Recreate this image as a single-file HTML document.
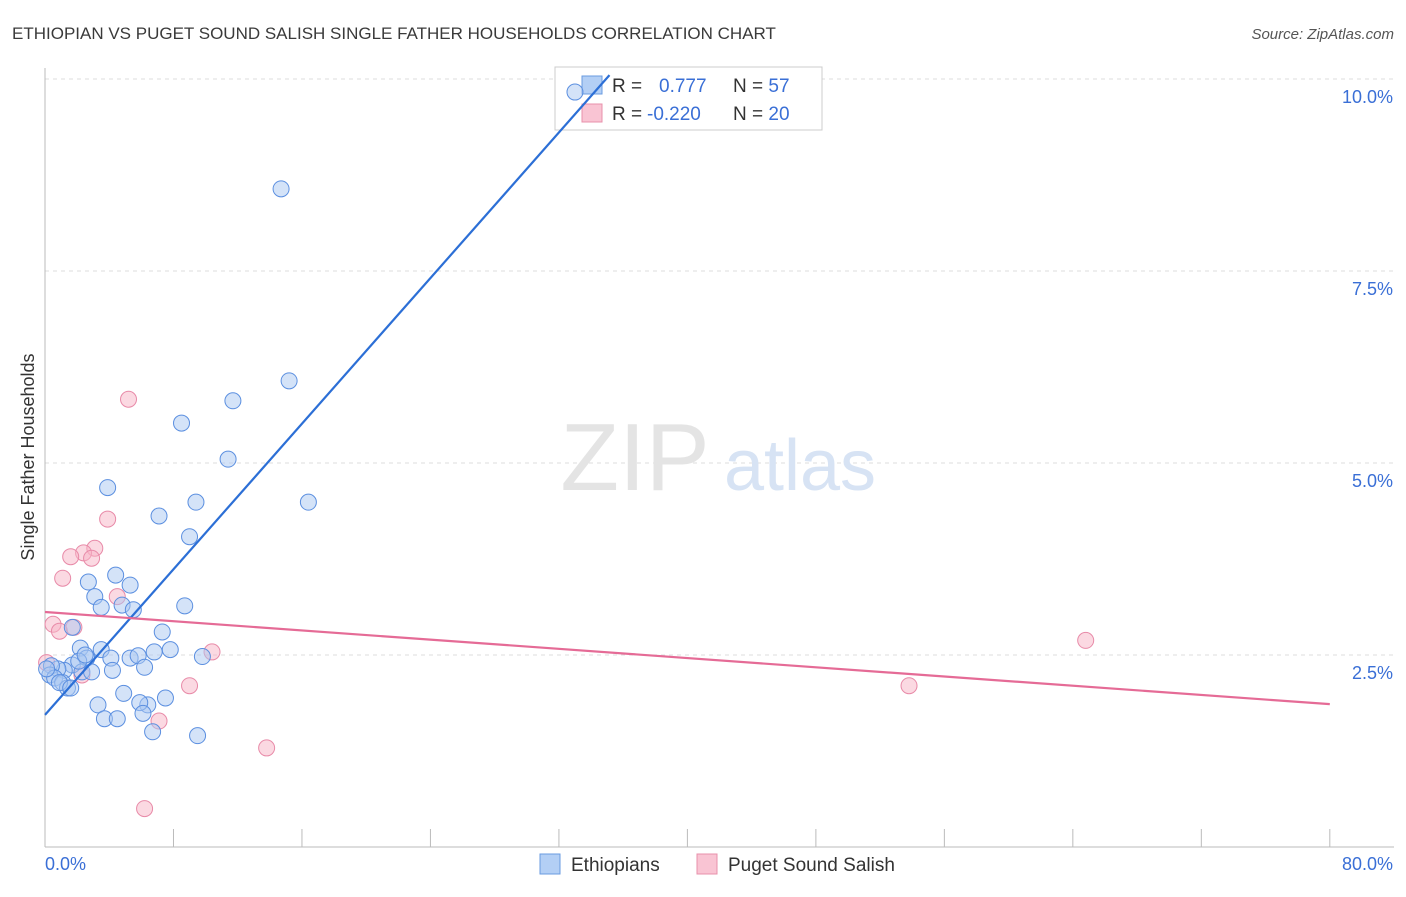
<!DOCTYPE html>
<html><head><meta charset="utf-8"><style>
body{margin:0;background:#fff;font-family:"Liberation Sans",sans-serif;}
svg text{font-family:"Liberation Sans",sans-serif;}
</style></head><body>
<svg width="1406" height="892">
<text x="12" y="39" font-size="17" fill="#3a3a3a">ETHIOPIAN VS PUGET SOUND SALISH SINGLE FATHER HOUSEHOLDS CORRELATION CHART</text>
<text x="1394" y="39" font-size="15" fill="#555" font-style="italic" text-anchor="end">Source: ZipAtlas.com</text>
<g id="grid"></g>
<text x="635" y="490" font-size="96" fill="#e4e4e4" font-family="Liberation Serif" text-anchor="middle">ZIP</text>
<text x="800" y="490" font-size="72" fill="#d7e3f4" text-anchor="middle">atlas</text>
<line x1="45" y1="68" x2="45" y2="847" stroke="#bbb"/>
<line x1="45" y1="847" x2="1394" y2="847" stroke="#bbb"/>
<text transform="translate(34,457) rotate(-90)" font-size="18" fill="#333" text-anchor="middle">Single Father Households</text>
<text x="45" y="870" font-size="18" fill="#3a6fd6">0.0%</text>
<text x="1393" y="870" font-size="18" fill="#3a6fd6" text-anchor="end">80.0%</text>
<g>
<rect x="555" y="67" width="267" height="63" fill="#fff" stroke="#ccc"/>
<rect x="582" y="76" width="20" height="18" fill="#b3cff5" stroke="#6a9be0"/>
<rect x="582" y="104" width="20" height="18" fill="#f9c4d3" stroke="#e890ab"/>
<text x="612" y="92" font-size="19" fill="#333">R = <tspan fill="#3a6fd6" x="659">0.777</tspan><tspan x="733" fill="#333">N = </tspan><tspan fill="#3a6fd6">57</tspan></text>
<text x="612" y="120" font-size="19" fill="#333">R = <tspan fill="#3a6fd6" x="647">-0.220</tspan><tspan x="733" fill="#333">N = </tspan><tspan fill="#3a6fd6">20</tspan></text>
</g>
<g id="pts"></g>
<g id="lines"></g>
<g><rect x="540" y="854" width="20" height="20" fill="#b3cff5" stroke="#6a9be0"/><text x="571" y="871" font-size="19" fill="#333">Ethiopians</text></g>
<g><rect x="697" y="854" width="20" height="20" fill="#f9c4d3" stroke="#e890ab"/><text x="728" y="871" font-size="19" fill="#333">Puget Sound Salish</text></g>
</svg>
<script>
const yTicks=[2.5,5.0,7.5,10.0];
const xTickVals=[0,8,16,24,32,40,48,56,64,72,80];
const blueX=[33.0,14.7,15.2,11.7,8.5,11.4,16.4,9.4,3.9,7.1,9.0,4.4,2.7,5.3,3.1,3.5,4.8,5.5,8.7,7.3,1.7,2.2,3.5,5.3,5.8,7.8,6.8,4.1,2.6,6.2,4.2,1.7,1.2,0.8,0.4,0.3,0.6,1.1,1.4,2.3,2.9,4.9,3.3,6.4,5.9,7.5,3.7,4.5,6.1,6.7,9.5,9.8,2.1,0.9,0.1,2.5,1.6];
const blueY=[9.83,8.57,6.07,5.81,5.52,5.05,4.49,4.49,4.68,4.31,4.04,3.54,3.45,3.41,3.26,3.12,3.15,3.09,3.14,2.80,2.86,2.59,2.57,2.46,2.49,2.57,2.54,2.46,2.46,2.34,2.30,2.37,2.30,2.32,2.36,2.24,2.20,2.14,2.07,2.28,2.28,2.00,1.85,1.85,1.88,1.94,1.67,1.67,1.74,1.50,1.45,2.48,2.42,2.14,2.32,2.50,2.07];
const pinkX=[5.2,3.9,3.1,2.4,2.9,1.6,1.1,4.5,0.5,0.9,1.8,2.3,10.4,9.0,7.1,13.8,6.2,53.8,64.8,0.1];
const pinkY=[5.83,4.27,3.89,3.83,3.76,3.78,3.50,3.26,2.90,2.81,2.86,2.24,2.54,2.10,1.64,1.29,0.50,2.10,2.69,2.4];
const blueTrend=[1.72,0.237];
const pinkTrend=[3.06,-0.015];
const NS="http://www.w3.org/2000/svg";
const X=v=>45+v*16.06, Y=v=>847-v*76.8;
const grid=document.getElementById('grid');
for(const t of yTicks){
 const l=document.createElementNS(NS,'line');
 
 
 l.setAttribute('x1',45);l.setAttribute('x2',1394);l.setAttribute('y1',Y(t));l.setAttribute('y2',Y(t));
 l.setAttribute('stroke','#ddd');l.setAttribute('stroke-dasharray','4,4');grid.appendChild(l);
 const tx=document.createElementNS(NS,'text');
 
 
 tx.setAttribute('x',1393);tx.setAttribute('y',Y(t)+24);tx.setAttribute('text-anchor','end');
 tx.setAttribute('font-size','18');tx.setAttribute('fill','#3a6fd6');tx.textContent=t.toFixed(1)+'%';grid.appendChild(tx);
}
for(const t of xTickVals){
 const l=document.createElementNS(NS,'line');
 
 
 l.setAttribute('x1',X(t));l.setAttribute('x2',X(t));l.setAttribute('y1',829);l.setAttribute('y2',847);
 l.setAttribute('stroke','#bbb');grid.appendChild(l);
}
const pts=document.getElementById('pts');
function dots(xs,ys,fill,stroke,name){
 xs.forEach((x,i)=>{const c=document.createElementNS(NS,'circle');
 
 
 c.setAttribute('cx',X(x));c.setAttribute('cy',Y(ys[i]));c.setAttribute('r',8);
 c.setAttribute('fill',fill);c.setAttribute('fill-opacity','0.5');c.setAttribute('stroke',stroke);c.setAttribute('stroke-width','1');
 pts.appendChild(c);});
}
dots(pinkX,pinkY,'#f7b3c6','#e88aa8','puget-point');
dots(blueX,blueY,'#a9c8f2','#5b8fe0','ethiopian-point');
const lines=document.getElementById('lines');
function trend(t,x0,x1,col,name){const l=document.createElementNS(NS,'line');
 
 
 l.setAttribute('x1',X(x0));l.setAttribute('y1',Y(t[0]+t[1]*x0));l.setAttribute('x2',X(x1));l.setAttribute('y2',Y(t[0]+t[1]*x1));
 l.setAttribute('stroke',col);l.setAttribute('stroke-width','2.2');lines.appendChild(l);}
trend(blueTrend,0,(10.05-blueTrend[0])/blueTrend[1],'#2c6fd6','ethiopian-trendline');
trend(pinkTrend,0,80,'#e56b96','puget-trendline');
</script>
</body></html>
